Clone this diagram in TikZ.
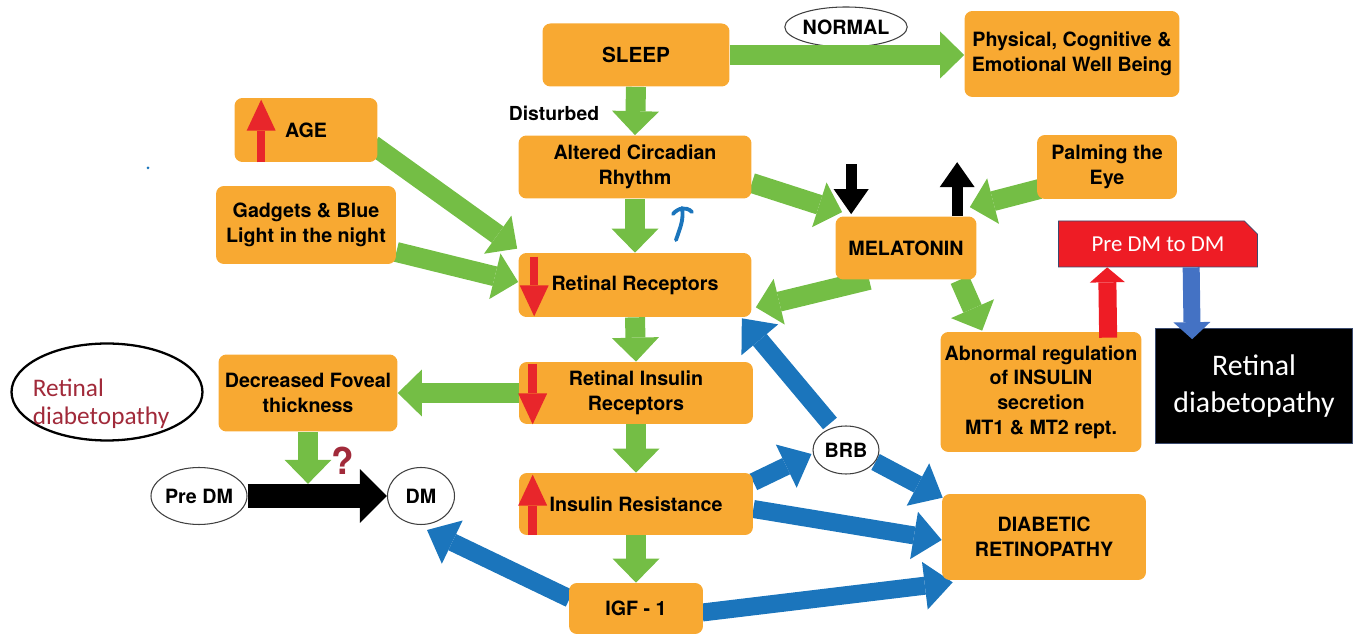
\documentclass[tikz,border=0pt]{standalone}
\usepackage{fontspec}
\setmainfont{TeX Gyre Heros}
\newfontfamily\calib{Carlito}
\usetikzlibrary{arrows.meta,calc,positioning,shapes.geometric,shapes.misc}

\definecolor{boxorange}{HTML}{F8A932}
\definecolor{arrgreen}{HTML}{74BE45}
\definecolor{arrblue}{HTML}{1B75BC}
\definecolor{arrred}{HTML}{E8262B}
\definecolor{darkred}{HTML}{A12A3A}
\definecolor{boxred}{HTML}{EE1C25}
\definecolor{slate}{HTML}{3A4A6E}
\definecolor{softblue}{HTML}{4472C4}

\pgfdeclarelayer{background}
\pgfsetlayers{background,main}

\tikzset{
    box/.style={rectangle, rounded corners=4.5pt, fill=boxorange, align=center,
        inner sep=2pt, font=\bfseries\fontsize{11.2}{14}\selectfont},
    oval/.style={ellipse, draw=black!75, line width=0.6pt, fill=white, inner sep=0pt,
        font=\bfseries\fontsize{11.2}{14}\selectfont},
    garrow/.style={draw=arrgreen, line width=0.4cm,
        -{Triangle[width=0.94cm,length=0.48cm,line width=0pt]}},
    barrow/.style={draw=arrblue, line width=0.36cm,
        -{Triangle[width=0.96cm,length=0.56cm,line width=0pt]}},
    rarrow/.style={draw=arrred, line width=0.17cm,
        -{Triangle[width=0.58cm,length=0.62cm,line width=0pt]}},
    karrow/.style={draw=black, line width=0.22cm,
        -{Triangle[width=0.7cm,length=0.5cm,line width=0pt]}},
    kfat/.style={draw=black, line width=0.48cm,
        -{Triangle[width=1.08cm,length=0.54cm,line width=0pt]}},
    redfat/.style={draw=boxred, line width=0.36cm,
        -{Triangle[width=0.7cm,length=0.3cm,line width=0pt]}},
    bluefat/.style={draw=softblue, line width=0.34cm,
        -{Triangle[width=0.74cm,length=0.34cm,line width=0pt]}},
}

\begin{document}
\begin{tikzpicture}[x=0.02cm,y=-0.02cm]
    \useasboundingbox (0,0) rectangle (1353,634);

    \begin{scope}[every node/.style={box}]
        \node[minimum width=3.74cm, minimum height=1.26cm,
            font=\bfseries\fontsize{11.8}{14}\selectfont] (sleep) at (636,55) {SLEEP};
        \node[minimum width=4.3cm, minimum height=1.72cm] (wellbeing) at (1072,54) {Physical, Cognitive \&\\Emotional Well Being};
        \node[minimum width=2.86cm, minimum height=1.28cm] (age) at (306,130) {AGE};
        \node[minimum width=3.6cm, minimum height=1.56cm] (gadgets) at (306,225) {Gadgets \& Blue\\Light in the night};
        \node[minimum width=4.66cm, minimum height=1.26cm] (circadian) at (635,167) {Altered Circadian\\Rhythm};
        \node[minimum width=4.66cm, minimum height=1.28cm] (retrec) at (635,285) {Retinal Receptors};
        \node[minimum width=2.82cm, minimum height=1.26cm] (melatonin) at (906,248) {MELATONIN};
        \node[minimum width=2.8cm, minimum height=1.28cm] (palming) at (1107,167) {Palming the\\Eye};
        \node[minimum width=4.02cm, minimum height=2.4cm] (insreg) at (1041,392) {Abnormal regulation\\of INSULIN\\secretion\\MT1 \& MT2 rept.};
        \node[minimum width=3.58cm, minimum height=1.54cm] (foveal) at (308,393) {Decreased Foveal\\thickness};
        \node[minimum width=4.68cm, minimum height=1.24cm] (insrec) at (636,393) {Retinal Insulin\\Receptors};
        \node[minimum width=4.68cm, minimum height=1.24cm] (insres) at (636,504) {Insulin Resistance};
        \node[minimum width=4.08cm, minimum height=1.72cm] (diabret) at (1044,537) {DIABETIC\\RETINOPATHY};
        \node[minimum width=2.68cm, minimum height=1.02cm] (igf) at (636,608.5) {IGF - 1};
    \end{scope}

    \node[oval, minimum width=2.44cm, minimum height=0.8cm] (normal) at (846,27) {NORMAL};
    \node[oval, minimum width=1.84cm, minimum height=1.14cm] (predm) at (199,496) {Pre DM};
    \node[oval, minimum width=1.34cm, minimum height=1.14cm] (dm) at (421,496) {DM};
    \node[oval, minimum width=1.32cm, minimum height=0.96cm] (brb) at (846,450) {BRB};
    \node[oval, draw=black, line width=1.3pt, minimum width=3.82cm, minimum height=1.94cm] (retleft) at (107,392) {};
    \node[align=left, text=darkred, inner sep=0pt, font=\calib\fontsize{14.4}{16}\selectfont] (retlefttext) at (101,404) {Retinal\\diabetopathy};

    \node[chamfered rectangle, chamfered rectangle corners=north east, chamfered rectangle xsep=4pt,
        draw=slate, fill=boxred, text=white, minimum width=3.98cm, minimum height=0.92cm,
        font=\calib\fontsize{13}{15}\selectfont] (predmdm) at (1158,244) {Pre DM to DM};
    \node[rectangle, draw=slate, fill=black, text=white, align=center, minimum width=3.94cm,
        minimum height=2.3cm, font=\calib\fontsize{17}{21}\selectfont] (retright) at (1254,386) {Retinal\\diabetopathy};

    \node[font=\bfseries\fontsize{11}{12}\selectfont] (disturbed) at (554,113) {Disturbed};
    \node[text=darkred, font=\bfseries\fontsize{21}{21}\selectfont] (qmark) at (343,461) {?};

    \coordinate (progress) at ($(foveal.south)+(0,52)$);

    % connectors between the boxes
    \begin{pgfonlayer}{background}
        \draw[garrow] (sleep.south) -- (circadian.north);
        \draw[garrow] ($(age.east)+(-5,15)$) -- ($(retrec.north west)+(-1,-4)$);
        \draw[garrow] ($(gadgets.east)+(0,27)$) -- ($(retrec.west)+(0,-3)$);
        \draw[garrow] (circadian.south) -- (retrec.north);
        \draw[garrow] ($(circadian.east)+(0,16)$) -- ($(melatonin.north west)+(7,-4)$);
        \draw[garrow] ($(palming.west)+(3,22)$) -- ($(melatonin.north east)+(-7,-9)$);
        \draw[garrow] ($(melatonin.south west)+(34,0)$) -- ($(retrec.south east)+(4,-10)$);
        \draw[garrow] ($(melatonin.south east)+(-17,0)$) -- ($(insreg.north west)+(42,-1)$);
        \draw[garrow] (retrec.south) -- (insrec.north);
        \draw[garrow] (insrec.west) -- (foveal.east);
        \draw[garrow] (insrec.south) -- (insres.north);
        \draw[garrow] (insres.south) -- (igf.north);

        \draw[barrow] ($(brb.north)+(-16,-2)$) -- ($(retrec.south east)+(-10,1)$);
        \draw[barrow] ($(insres.east)+(0,-22)$) -- ($(brb.west)+(-1,4)$);
        \draw[barrow] ($(brb.east)+(-4,12)$) -- ($(diabret.north west)+(1,4)$);
        \draw[barrow] ($(insres.east)+(0,5)$) -- ($(diabret.west)+(0,3)$);
        \draw[barrow] ($(igf.east)+(-1,4)$) -- ($(diabret.south west)+(11,2)$);
        \draw[barrow] ($(igf.west)+(1,-10)$) -- ($(dm.south)+(6,5)$);
    \end{pgfonlayer}

    \draw[garrow] (sleep.east) -- (sleep.east -| wellbeing.west);
    \draw[kfat] (predm.east) -- (dm.west);
    \draw[garrow] (foveal.south) -- (progress);
    \draw[redfat] ($(insreg.north west)+(168,6)$) -- ($(predmdm.south west)+(49,0)$);
    \draw[bluefat] ($(predmdm.south west)+(133,0)$) -- ($(retright.north west)+(37,11)$);

    % up and down marks
    \draw[rarrow] ($(age.south west)+(27,0)$) -- ($(age.north west)+(27,2)$);
    \draw[rarrow] ($(retrec.north west)+(16,4)$) -- ($(retrec.south west)+(16,-1)$);
    \draw[rarrow] ($(insrec.north west)+(14,2)$) -- ($(insrec.south west)+(14,0)$);
    \draw[rarrow] ($(insres.south west)+(14,0)$) -- ($(insres.north west)+(14,2)$);
    \draw[karrow] ($(melatonin.north west)+(16,-52)$) -- ($(melatonin.north west)+(16,-2)$);
    \draw[karrow] ($(melatonin.north west)+(122,0)$) -- ($(melatonin.north west)+(122,-54)$);

    % hand marks
    \draw[arrblue, line width=2.2pt, line cap=round] (676,240) .. controls (680,228) and (684,220) .. (682,208);
    \draw[arrblue, line width=2.2pt, line cap=round] (673,214) .. controls (678,208) and (686,206) .. (692,212);
    \fill[arrblue] (148,168) circle (1.5);
\end{tikzpicture}
\end{document}
